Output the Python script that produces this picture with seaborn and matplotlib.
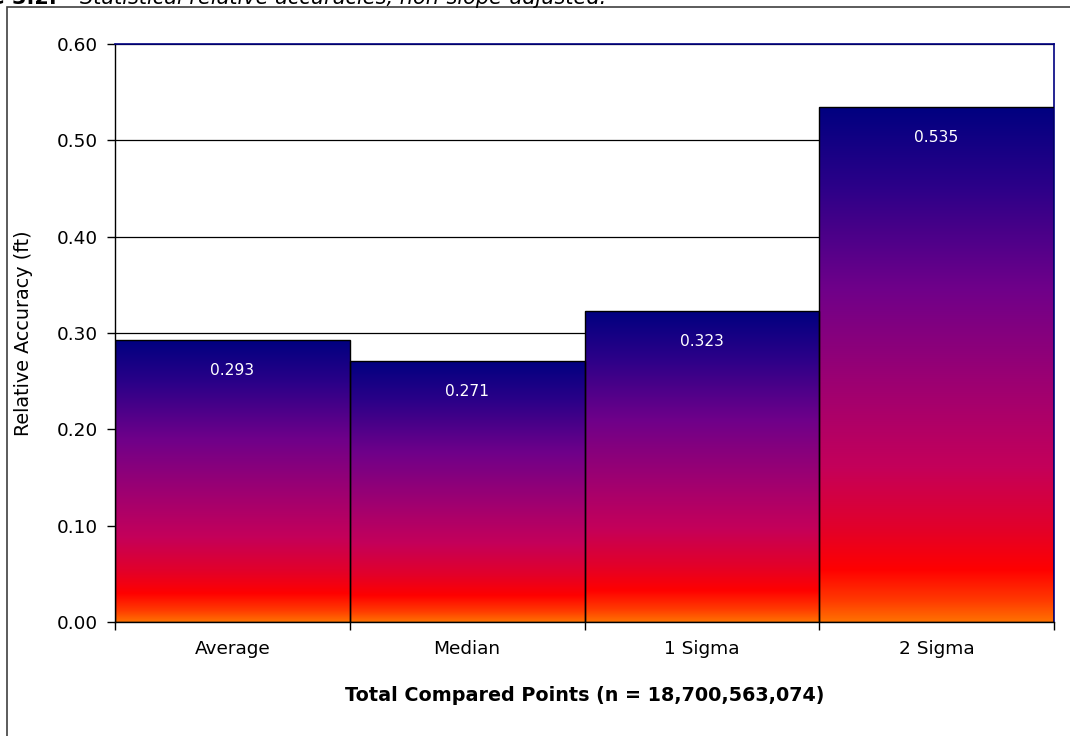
import numpy as np
import pandas as pd
import seaborn as sns
import matplotlib.pyplot as plt
from matplotlib.colors import LinearSegmentedColormap
from matplotlib.patches import Rectangle

# Chart data
categories = ['Average', 'Median', '1 Sigma', '2 Sigma']
values = [0.293, 0.271, 0.323, 0.535]
value_labels = ['0.293', '0.271', '0.323', '0.535']
y_ticks = [0.0, 0.1, 0.2, 0.3, 0.4, 0.5, 0.6]

df = pd.DataFrame({'Statistic': categories, 'Accuracy': values})

sns.set_theme(style='white')
plt.rcParams['font.family'] = ['DejaVu Sans']
plt.rcParams['text.color'] = 'black'
plt.rcParams['axes.labelcolor'] = 'black'
plt.rcParams['xtick.color'] = 'black'
plt.rcParams['ytick.color'] = 'black'

# gradient used to fill each bar, top (navy) to bottom (orange)
grad_cmap = LinearSegmentedColormap.from_list('bar_grad', [
    (0.00, '#000080'),
    (0.15, '#2a0088'),
    (0.35, '#6e008a'),
    (0.55, '#a00070'),
    (0.70, '#c4005a'),
    (0.82, '#e2002a'),
    (0.90, '#ff0000'),
    (0.96, '#ff3a00'),
    (1.00, '#ff7000'),
])

fig = plt.figure(figsize=(10.7, 7.36), dpi=100)
ax = fig.add_axes([115 / 1070, 1 - 622 / 736, (1054 - 115) / 1070, (622 - 44) / 736])

sns.barplot(data=df, x='Statistic', y='Accuracy', order=categories, width=1.0,
            color='white', edgecolor='black', linewidth=1.0, saturation=1, ax=ax)

grad = grad_cmap(np.linspace(0, 1, 256))[:, None, :3]
for patch, label in zip(ax.patches, value_labels):
    x0 = patch.get_x()
    w = patch.get_width()
    h = patch.get_height()
    patch.set_facecolor('none')
    patch.set_zorder(3)
    img = ax.imshow(grad, extent=[x0, x0 + w, 0, h], aspect='auto',
                    origin='upper', zorder=2, interpolation='bilinear')
    img.set_clip_path(patch)
    ax.annotate(label, (x0 + w / 2, h), xytext=(0, -22), textcoords='offset points',
                ha='center', va='center', color='white', fontsize=11.2, zorder=4)

ax.set_xlim(-0.5, 3.5)
ax.set_ylim(0, 0.6)
ax.set_yticks(y_ticks)
ax.set_yticklabels([f'{t:.2f}' for t in y_ticks], fontsize=13.3)
ax.yaxis.grid(True, color='black', linewidth=0.9)
ax.set_axisbelow(True)

# category boundaries get the tick marks, centres get the labels
ax.set_xticks([-0.5, 0.5, 1.5, 2.5, 3.5])
ax.set_xticklabels([])
ax.set_xticks([0, 1, 2, 3], minor=True)
ax.set_xticklabels(categories, minor=True, fontsize=13.3)
ax.tick_params(axis='x', which='major', direction='out', length=6, width=1, color='black', bottom=True)
ax.tick_params(axis='x', which='minor', length=0, pad=13)
ax.tick_params(axis='y', direction='out', length=6, width=1, color='black', left=True, pad=6)

ax.set_xlabel('Total Compared Points (n = 18,700,563,074)', fontsize=13.8,
              fontweight='bold', labelpad=20)
ax.set_ylabel('Relative Accuracy (ft)', fontsize=13.8, labelpad=17)

for side in ['left', 'bottom']:
    ax.spines[side].set_color('black')
    ax.spines[side].set_linewidth(1.0)
for side in ['top', 'right']:
    ax.spines[side].set_color('#000080')
    ax.spines[side].set_linewidth(1.2)

# outer frame of the chart area (runs off the right and bottom edges)
fig.patches.append(Rectangle((7 / 1070, -0.05), 1.2, 1.05 - 7 / 736,
                             transform=fig.transFigure, fill=False,
                             edgecolor='#404040', linewidth=1.2))

# caption, cut off by the top of the image as in the source
fig.text(57 / 1070, 1 - 4 / 736, 'Figure 3.2.', ha='right', va='baseline',
         fontsize=15, fontweight='bold')
fig.text(80 / 1070, 1 - 4 / 736, 'Statistical relative accuracies, non-slope-adjusted.',
         ha='left', va='baseline', fontsize=15, style='italic')

fig.savefig('out.png', dpi=100)
